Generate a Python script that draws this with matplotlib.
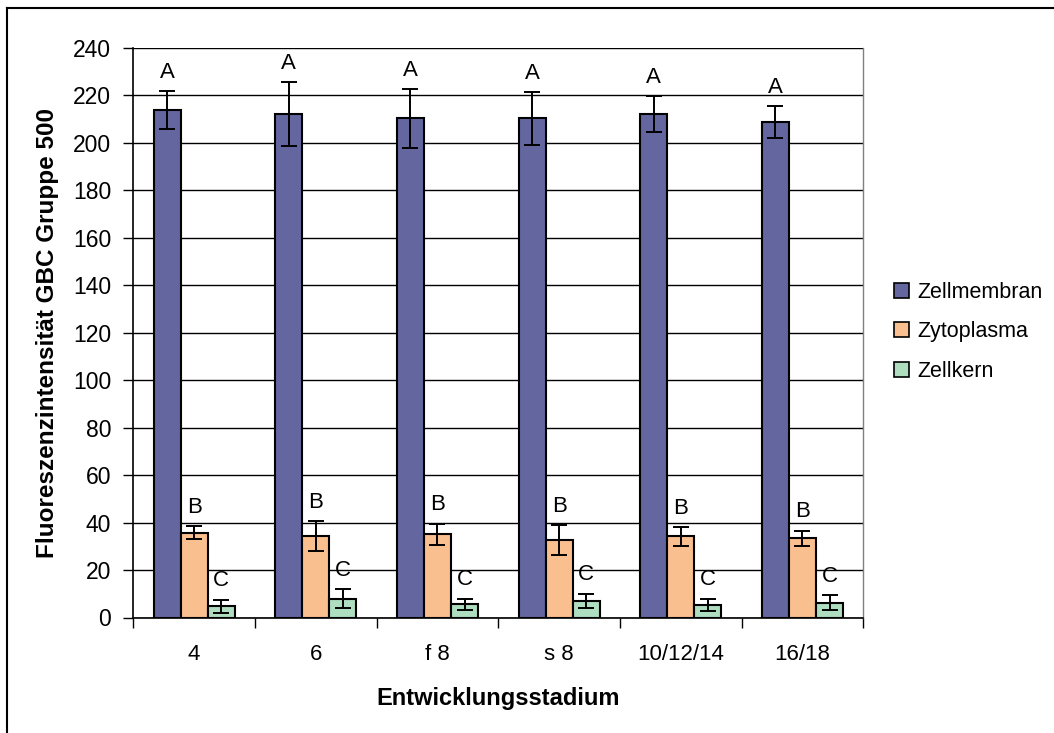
import numpy as np
import matplotlib
matplotlib.use("Agg")
import matplotlib.pyplot as plt
from matplotlib.lines import Line2D
from matplotlib.patches import Patch

plt.rcParams['font.family'] = ['Liberation Sans', 'DejaVu Sans']

stages = ["4", "6", "f 8", "s 8", "10/12/14", "16/18"]
series_names = ["Zellmembran", "Zytoplasma", "Zellkern"]
membran = [213.8, 212.0, 210.3, 210.3, 212.2, 208.9]
membran_err = [8.0, 13.5, 12.3, 11.1, 7.5, 6.7]
plasma = [35.8, 34.3, 35.1, 32.6, 34.2, 33.4]
plasma_err = [2.8, 6.3, 4.4, 6.4, 4.0, 3.2]
kern = [4.8, 8.0, 5.6, 7.1, 5.4, 6.3]
kern_err = [2.7, 4.0, 2.4, 3.0, 2.6, 3.1]
letters = ["A", "B", "C"]
yticks = list(range(0, 241, 20))

colors = ["#64679F", "#F9BF8F", "#AEDDC0"]
values = [membran, plasma, kern]
errors = [membran_err, plasma_err, kern_err]

W, H = 1054, 733
fig = plt.figure(figsize=(W / 100, H / 100), dpi=100)
ax = fig.add_axes([133.3 / W, 1 - 617.5 / H, 730 / W, 569.5 / H])

x = np.arange(len(stages))
bw = 1 / 4.5
for i, (vals, errs, col) in enumerate(zip(values, errors, colors)):
    pos = x + (i - 1) * bw
    ax.bar(pos, vals, width=bw, color=col, edgecolor="black", linewidth=1.5,
           zorder=3, label=series_names[i])
    ax.errorbar(pos, vals, yerr=errs, fmt="none", ecolor="black",
                elinewidth=1.4, capsize=6, capthick=1.4, zorder=4)
    for p, v, e in zip(pos, vals, errs):
        ax.text(p, v + e + 3.5, letters[i], ha="center", va="bottom",
                fontsize=16, zorder=5)

ax.set_xlim(-0.5, len(stages) - 0.5)
ax.set_ylim(0, 240)
ax.set_yticks(yticks)
ax.tick_params(axis="y", direction="out", length=7, width=1, labelsize=16.5, pad=9)
ax.yaxis.grid(True, color="black", linewidth=1, zorder=0)
ax.set_axisbelow(True)

ax.set_xticks(x)
ax.set_xticklabels(stages, fontsize=16)
ax.tick_params(axis="x", length=0, pad=19)
ax.set_xticks(np.arange(-0.5, len(stages)), minor=True)
ax.tick_params(axis="x", which="minor", direction="out", length=7, width=1)

ax.spines["top"].set_visible(False)
ax.spines["right"].set_color("#808080")
ax.spines["right"].set_linewidth(1)
ax.spines["left"].set_linewidth(1.2)
ax.spines["bottom"].set_linewidth(1.2)

ax.set_xlabel("Entwicklungsstadium", fontsize=17, fontweight="bold", labelpad=16)
ax.set_ylabel("Fluoreszenzintensität GBC Gruppe 500", fontsize=17.5,
              fontweight="bold", labelpad=10)

handles = [Patch(facecolor=c, edgecolor="black", linewidth=1.2) for c in colors]
fig.legend(handles, series_names, loc="center left",
           bbox_to_anchor=(875 / W, 1 - 332 / H), frameon=False, fontsize=15.5,
           handlelength=0.7, handleheight=0.7, handletextpad=0.35,
           labelspacing=0.85)

# outer chart frame
fig.add_artist(Line2D([7 / W, 1], [1 - 8 / H, 1 - 8 / H], color="black",
                      linewidth=1.5, transform=fig.transFigure))
fig.add_artist(Line2D([7 / W, 7 / W], [0, 1 - 8 / H], color="black",
                      linewidth=1.5, transform=fig.transFigure))

fig.savefig("out.png", dpi=100)
